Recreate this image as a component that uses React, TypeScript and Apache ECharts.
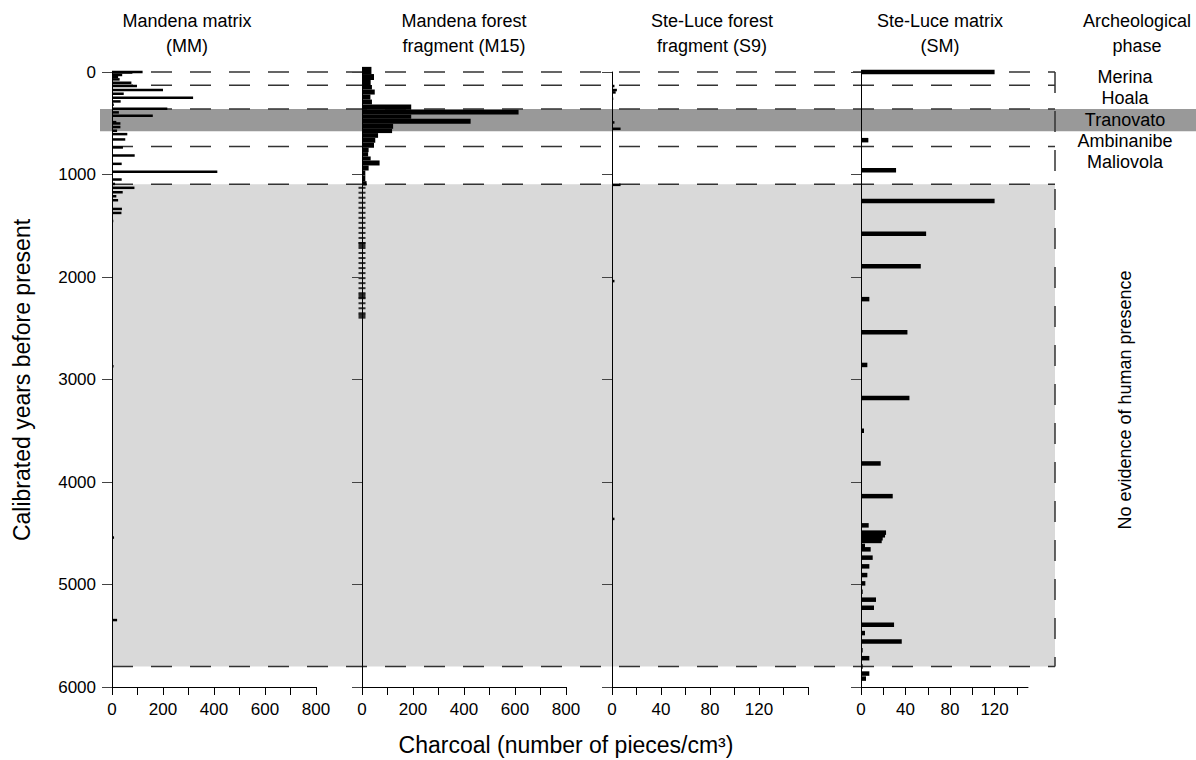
import React, { useEffect, useRef } from "react";
import * as echarts from "echarts";

const FONT = "'Liberation Sans', Arial, Helvetica, sans-serif";

// ---------- axes ----------
const yearTicks = [0, 1000, 2000, 3000, 4000, 5000, 6000];
const bigTicks = [0, 100, 200, 300, 400, 500, 600, 700, 800];
const bigLabels = [0, 200, 400, 600, 800];
const s9Ticks = [0, 20, 40, 60, 80, 100, 120, 140, 160];
const smTicks = [0, 20, 40, 60, 80, 100, 120, 140];
const smallLabels = [0, 40, 80, 120];

// ---------- Mandena matrix (MM) ----------
const mmYears = [0, 5, 29, 49, 72, 104, 137, 176, 212, 251, 287, 319, 358, 394, 427, 489, 502, 537, 573, 606, 658, 736, 814, 896, 974, 1049, 1092, 1130, 1173, 1212, 1251, 1336, 1375, 1453, 1838, 2098, 2440, 2700, 2870, 3385, 4542, 4703, 5347, 5484, 5670];
const mmValues = [120, 80, 40, 24, 30, 76, 98, 200, 46, 318, 34, 7, 217, 27, 160, 17, 33, 33, 20, 60, 52, 43, 89, 38, 413, 38, 12, 88, 42, 17, 24, 39, 37, 5, 3, 3, 3, 3, 6, 3, 8, 3, 20, 3, 3];

// ---------- Mandena forest fragment (M15) ----------
const m15Top = [-50, 20, 78, 127, 171, 220, 269, 316, 368, 414, 456, 505, 554, 596, 642, 690, 739, 782, 824, 863, 912, 961, 1010, 1065];
const m15Bottom = [20, 78, 127, 171, 220, 269, 316, 368, 414, 456, 505, 554, 596, 642, 690, 739, 782, 824, 863, 912, 961, 1010, 1065, 1108];
const m15Values = [37, 47, 34, 39, 50, 33, 39, 193, 614, 193, 426, 122, 118, 63, 52, 47, 26, 24, 34, 69, 26, 13, 13, 18];
const m15TraceYears = [1130, 1178, 1227, 1276, 1325, 1374, 1423, 1472, 1521, 1570, 1619, 1668, 1717, 1766, 1815, 1864, 1913, 1962, 2011, 2060, 2109, 2158, 2207, 2256, 2305, 2354];
const m15SpotYears = [1684, 2186, 2382];

// ---------- Ste-Luce forest fragment (S9) ----------
const s9Years = [137, 176, 199, 260, 492, 554, 1101, 2040, 4360];
const s9Values = [2, 4, 3, 1, 2, 7, 7, 2, 2];

// ---------- Ste-Luce matrix (SM) ----------
const smYears = [0, 665, 958, 1258, 1577, 1896, 2216, 2538, 2858, 3180, 3500, 3819, 4138, 4423, 4494, 4520, 4549, 4575, 4624, 4657, 4738, 4823, 4908, 4989, 5070, 5148, 5227, 5393, 5474, 5556, 5641, 5719, 5800, 5869, 5918];
const smValues = [120, 6.6, 31.5, 120, 58.5, 53.7, 7.5, 41.7, 5.7, 43.5, 2.7, 17.7, 28.5, 6.9, 22.5, 21.6, 19.5, 18.6, 3.6, 8.7, 10.5, 7.5, 5.7, 3.9, 1.5, 13.5, 11.7, 29.7, 3.6, 36.6, 1.5, 7.5, 1.5, 7.5, 4.5];

// ---------- archaeological phases ----------
const phaseNames = ["Merina", "Hoala", "Tranovato", "Ambinanibe", "Maliovola"];
const tranovatoBand = [362, 577];
const noEvidenceBand = [1095, 5800];
const dashedYears = [0, 130, 362, 726, 1095, 5800];

const panelTitles = [
  "Mandena matrix\n(MM)",
  "Mandena forest\nfragment (M15)",
  "Ste-Luce forest\nfragment (S9)",
  "Ste-Luce matrix\n(SM)",
  "Archeological\nphase",
];

const TOP = 72;
const HEIGHT = 615;

const panels = [
  { left: 112, width: 204, max: 800, ticks: bigTicks, labels: bigLabels },
  { left: 362, width: 204, max: 800, ticks: bigTicks, labels: bigLabels },
  { left: 612, width: 196, max: 160, ticks: s9Ticks, labels: smallLabels },
  { left: 861, width: 167, max: 150, ticks: smTicks, labels: smallLabels },
];

function hBar(thick: number) {
  return (_p: any, api: any) => {
    const v = api.value(0);
    const yr = api.value(1);
    const a = api.coord([0, yr]);
    const b = api.coord([v, yr]);
    return {
      type: "rect",
      shape: { x: a[0], y: a[1] - thick / 2, width: Math.max(b[0] - a[0], 1), height: thick },
      style: { fill: "#000" },
    };
  };
}

function blockBar(_p: any, api: any) {
  const v = api.value(0);
  const t = api.value(1);
  const bt = api.value(2);
  const p0 = api.coord([0, t]);
  const p1 = api.coord([v, bt]);
  return {
    type: "rect",
    shape: { x: p0[0], y: p0[1], width: p1[0] - p0[0], height: p1[1] - p0[1] },
    style: { fill: "#000" },
  };
}

function bandItem(color: string) {
  return (_p: any, api: any) => {
    const a = api.coord([0, api.value(0)]);
    const b = api.coord([1, api.value(1)]);
    return {
      type: "rect",
      shape: { x: a[0], y: a[1], width: b[0] - a[0], height: b[1] - a[1] },
      style: { fill: color },
    };
  };
}

function text(t: string, x: number, y: number, size: number, extra: any = {}) {
  const { va, ...rest } = extra;
  return {
    type: "text",
    x,
    y,
    z: 100,
    ...rest,
    style: {
      text: t,
      fontSize: size,
      fontFamily: FONT,
      fill: "#000",
      align: "center",
      textAlign: "center",
      verticalAlign: va || "middle",
      textVerticalAlign: va || "middle",
      lineHeight: 25,
    },
  };
}

export default function App() {
  const ref = useRef<HTMLDivElement>(null);

  useEffect(() => {
    document.body.style.margin = "0";
    if (!ref.current) return;
    const chart = echarts.init(ref.current, null, { renderer: "svg" });

    const grids: any[] = panels.map((p) => ({ left: p.left, top: TOP, width: p.width, height: HEIGHT }));
    grids.push({ left: 112, top: TOP, width: 943, height: HEIGHT });
    grids.push({ left: 100, top: TOP, width: 1096, height: HEIGHT });

    const xAxes: any[] = panels.map((p, i) => ({
      type: "value",
      gridIndex: i,
      min: 0,
      max: p.max,
      position: "bottom",
      z: 10,
      axisLine: { show: true, onZero: false, lineStyle: { color: "#000", width: 1 } },
      axisTick: { show: true, length: 8, inside: false, customValues: p.ticks, lineStyle: { color: "#000" } },
      axisLabel: {
        customValues: p.labels,
        fontSize: 17,
        color: "#000",
        margin: 14,
        fontFamily: FONT,
        formatter: (v: number) => String(v),
      },
      splitLine: { show: false },
    }));
    const yAxes: any[] = panels.map((_p, i) => ({
      type: "value",
      gridIndex: i,
      min: 0,
      max: 6000,
      interval: 1000,
      inverse: true,
      z: 10,
      axisLine: { show: true, onZero: false, lineStyle: { color: "#000", width: 1 } },
      axisTick: { show: true, length: 10, customValues: yearTicks, lineStyle: { color: "#444" } },
      axisLabel: {
        show: i === 0,
        customValues: yearTicks,
        fontSize: 17,
        color: "#000",
        margin: 16,
        fontFamily: FONT,
        formatter: (v: number) => String(v),
      },
      splitLine: { show: false },
    }));
    for (const gi of [4, 5]) {
      xAxes.push({ type: "value", gridIndex: gi, min: 0, max: 1, show: false });
      yAxes.push({ type: "value", gridIndex: gi, min: 0, max: 6000, inverse: true, show: false });
    }

    const series: any[] = [
      {
        type: "custom",
        xAxisIndex: 4,
        yAxisIndex: 4,
        z: 1,
        silent: true,
        data: [noEvidenceBand],
        renderItem: bandItem("#d9d9d9"),
      },
      {
        type: "custom",
        xAxisIndex: 5,
        yAxisIndex: 5,
        z: 1,
        silent: true,
        data: [tranovatoBand],
        renderItem: bandItem("#999999"),
      },
      {
        type: "custom",
        xAxisIndex: 4,
        yAxisIndex: 4,
        z: 2,
        silent: true,
        data: dashedYears.map((y) => [y]),
        renderItem: (_p: any, api: any) => {
          const y = api.value(0);
          const a = api.coord([0, y]);
          const b = api.coord([1, y]);
          return {
            type: "line",
            shape: { x1: a[0], y1: a[1], x2: b[0], y2: b[1] },
            style: { stroke: "#333", lineWidth: 1.5, lineDash: [21, 18] },
          };
        },
      },
      {
        type: "custom",
        xAxisIndex: 4,
        yAxisIndex: 4,
        z: 2,
        silent: true,
        data: [[dashedYears[0], dashedYears[dashedYears.length - 1]]],
        renderItem: (_p: any, api: any) => {
          const a = api.coord([1, api.value(0)]);
          const b = api.coord([1, api.value(1)]);
          return {
            type: "line",
            shape: { x1: a[0], y1: a[1], x2: b[0], y2: b[1] },
            style: { stroke: "#333", lineWidth: 1.5, lineDash: [21, 18] },
          };
        },
      },
      {
        type: "custom",
        xAxisIndex: 0,
        yAxisIndex: 0,
        z: 5,
        data: mmYears.map((y, i) => [mmValues[i], y]),
        renderItem: hBar(2.5),
      },
      {
        type: "custom",
        xAxisIndex: 1,
        yAxisIndex: 1,
        z: 5,
        data: m15Top.map((t, i) => [m15Values[i], t, m15Bottom[i]]),
        renderItem: blockBar,
      },
      {
        type: "scatter",
        xAxisIndex: 1,
        yAxisIndex: 1,
        z: 5,
        symbol: "rect",
        symbolSize: [7, 2],
        itemStyle: { color: "#000" },
        data: m15TraceYears.map((y) => [0, y]),
      },
      {
        type: "scatter",
        xAxisIndex: 1,
        yAxisIndex: 1,
        z: 5,
        symbol: "rect",
        symbolSize: [7, 5],
        itemStyle: { color: "#000" },
        data: m15SpotYears.map((y) => [0, y]),
      },
      {
        type: "custom",
        xAxisIndex: 2,
        yAxisIndex: 2,
        z: 5,
        data: s9Years.map((y, i) => [s9Values[i], y]),
        renderItem: hBar(2.5),
      },
      {
        type: "custom",
        xAxisIndex: 3,
        yAxisIndex: 3,
        z: 5,
        data: smYears.map((y, i) => [smValues[i], y]),
        renderItem: hBar(4.5),
      },
    ];

    const titleX = [187, 464, 712, 940, 1137];
    const phaseY = [77, 98, 120, 141, 162];
    const graphic: any[] = [
      ...panelTitles.map((t, i) => text(t, titleX[i], 8, 18, { va: "top" })),
      ...phaseNames.map((n, i) => text(n, 1125, phaseY[i], 18)),
      text("No evidence of human presence", 1125, 400, 18, { rotation: Math.PI / 2 }),
      text("Calibrated years before present", 22, 380, 23, { rotation: Math.PI / 2 }),
      text("Charcoal (number of pieces/cm³)", 566, 745, 23),
    ];

    chart.setOption({
      animation: false,
      backgroundColor: "#fff",
      textStyle: { fontFamily: FONT },
      grid: grids,
      xAxis: xAxes,
      yAxis: yAxes,
      series,
      graphic,
    });

    return () => chart.dispose();
  }, []);

  return <div ref={ref} style={{ width: 1196, height: 760 }} />;
}
